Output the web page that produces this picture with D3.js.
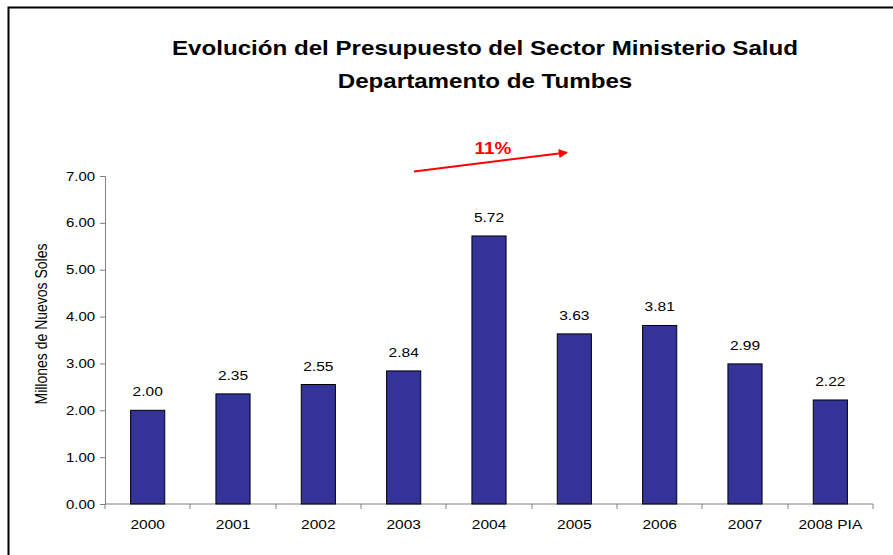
<!DOCTYPE html>
<meta charset="utf-8">
<title>Presupuesto Salud Tumbes</title>
<style>
body { margin: 0; background: #fff; }
text { font-family: "Liberation Sans", Arial, sans-serif; }
</style>
<body>
<script src="https://d3js.org/d3.v7.min.js"></script>
<script>

// data
var years = ["2000", "2001", "2002", "2003", "2004", "2005", "2006", "2007", "2008 PIA"];
var values = [2.00, 2.35, 2.55, 2.84, 5.72, 3.63, 3.81, 2.99, 2.22];
var yTicks = [0, 1, 2, 3, 4, 5, 6, 7];

var width = 893, height = 555;
var margin = {top: 176, right: 20, bottom: 51, left: 105};
var plotW = 873 - margin.left, plotH = height - margin.top - margin.bottom;
var stretch = 1.15; // the original picture is a bit wider than tall

var svg = d3.select("body").append("svg")
    .attr("width", width)
    .attr("height", height);

// text placed at (x,y) and stretched horizontally
function label(parent, x, y, str, size, anchor) {
    return parent.append("text")
        .attr("transform", "translate(" + x + "," + y + ") scale(" + stretch + ",1)")
        .attr("text-anchor", anchor || "middle")
        .attr("font-size", size)
        .text(str);
}

// outer frame
svg.append("rect")
    .attr("x", 8.5).attr("y", 7.5)
    .attr("width", 900).attr("height", 600)
    .attr("fill", "none").attr("stroke", "#000").attr("stroke-width", 2);

// title
label(svg, 485, 55, "Evolución del Presupuesto del Sector Ministerio Salud", 21).attr("font-weight", "bold");
label(svg, 485, 88, "Departamento de Tumbes", 21).attr("font-weight", "bold");

var g = svg.append("g")
    .attr("transform", "translate(" + margin.left + "," + margin.top + ")");

var x = d3.scaleBand().domain(years).range([0, plotW]).paddingInner(0.6).paddingOuter(0.3);
var y = d3.scaleLinear().domain([0, 7]).range([plotH, 0]);

// y axis
var yAxis = g.append("g")
    .call(d3.axisLeft(y).tickValues(yTicks).tickFormat("").tickSize(5));
yAxis.select(".domain").attr("stroke", "#808080");
yAxis.selectAll(".tick line").attr("stroke", "#808080");
yTicks.forEach(function(t) {
    label(g, -10, y(t) + 4.5, d3.format(".2f")(t), 13, "end");
});

// x axis with ticks between categories
var xAxis = g.append("g").attr("transform", "translate(0," + plotH + ")");
xAxis.append("line").attr("x1", 0).attr("x2", plotW).attr("stroke", "#808080");
var step = x.step();
d3.range(years.length + 1).forEach(function(i) {
    var xx = Math.round(x(years[0]) - x.paddingOuter() * step + i * step);
    if (i === 0) xx = 0;
    if (i === years.length) xx = plotW;
    xAxis.append("line").attr("x1", xx).attr("x2", xx).attr("y1", 0).attr("y2", 5).attr("stroke", "#808080");
});
years.forEach(function(d) {
    label(xAxis, x(d) + x.bandwidth() / 2, 25, d, 13.5);
});

// bars
g.selectAll(".bar").data(values).enter().append("rect")
    .attr("x", function(d, i) { return x(years[i]); })
    .attr("y", function(d) { return y(d); })
    .attr("width", x.bandwidth())
    .attr("height", function(d) { return plotH - y(d); })
    .attr("fill", "#333399")
    .attr("stroke", "#000").attr("stroke-width", 1);

// value labels
values.forEach(function(d, i) {
    label(g, x(years[i]) + x.bandwidth() / 2, y(d) - 14, d3.format(".2f")(d), 13.5);
});

// y axis title
svg.append("text")
    .attr("transform", "translate(47,324) scale(" + stretch + ",1) rotate(-90)")
    .attr("text-anchor", "middle")
    .attr("font-size", 14)
    .text("Millones de Nuevos Soles");

// growth arrow
svg.append("defs").append("marker")
    .attr("id", "arr").attr("viewBox", "0 0 10 10")
    .attr("refX", 9).attr("refY", 5)
    .attr("markerWidth", 5).attr("markerHeight", 4.5)
    .attr("markerUnits", "strokeWidth")
    .attr("orient", "auto")
    .append("path").attr("d", "M0,0L10,5L0,10z").attr("fill", "#ff0000");
svg.append("line")
    .attr("x1", 414).attr("y1", 171.5).attr("x2", 567).attr("y2", 152.5)
    .attr("stroke", "#ff0000").attr("stroke-width", 2)
    .attr("marker-end", "url(#arr)");
label(svg, 493, 154, "11%", 16.5).attr("font-weight", "bold").attr("fill", "#ff0000");

</script>
</body>
